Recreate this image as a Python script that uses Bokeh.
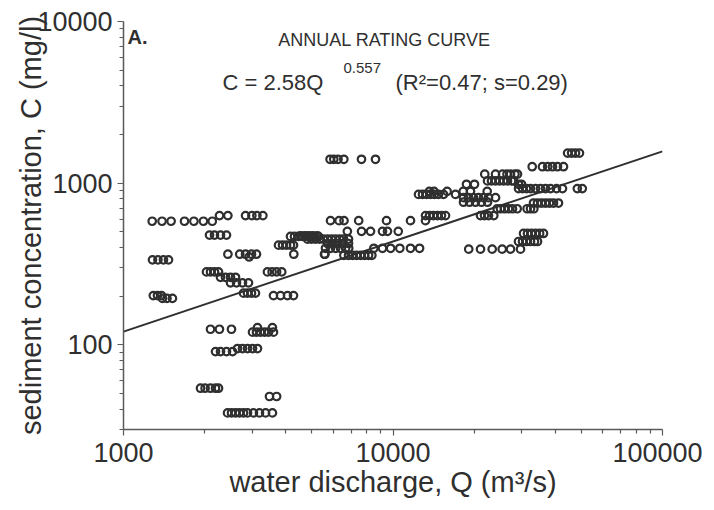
from bokeh.plotting import figure
from bokeh.models import FixedTicker, NumeralTickFormatter, Label
from bokeh.embed import file_html
from bokeh.resources import INLINE

# ---- data (Q: m3/s, C: mg/l) ----
Q = [
    # C ~ 580 / 630 row (upper left)
    1278, 1390, 1502, 1684, 1825, 1980, 2135,
    2271, 2440, 2837, 2995, 3125, 3290,
    # C ~ 478
    2085, 2176, 2291, 2411,
    # C ~ 414
    3760, 3891, 4027, 4166, 4274,
    # C ~ 469
    4166, 4310, 4460, 4615, 4776, 4943, 5110, 5290,
    # C ~ 364 / 350
    2440, 2700, 2837, 2985, 3115, 4285, 5590, 2925,
    # C ~ 336
    1281, 1342, 1407, 1469,
    # C ~ 283
    2032, 2103, 2176, 2252, 3420, 3560, 3700, 3865,
    # C ~ 262
    2291, 2390, 2495, 2604,
    # C ~ 242
    2495, 2626, 2764, 2910,
    # C ~ 209
    2788, 2885, 2985, 3088,
    # C ~ 202 / 194
    1290, 1337, 1384, 1395, 1450, 1519,
    # C ~ 202
    3602, 3825, 4060, 4274,
    # C ~ 125 / 120
    2103, 2270, 2516, 3011, 3115, 3222, 3337, 3452, 3602, 3141, 3570,
    # C ~ 91 / 95
    2195, 2291, 2411, 2538, 2649, 2764, 2885, 3011, 3141,
    # C ~ 53
    1931, 2008, 2103, 2195, 2252,
    # C ~ 47
    3481, 3700,
    # C ~ 38
    2432, 2516, 2604, 2694, 2788, 2885, 3036, 3196, 3367, 3570,
    # C ~ 1400
    5840, 6030, 6250, 6570, 7640, 8610,
    # C ~ 1535
    44450, 46000, 47560, 49200,
    # C ~ 1265
    32850, 35860, 37490, 39060, 40770, 42918,
    # C ~ 1138
    21900, 24017, 25489, 26490, 27290, 28360, 28970,
    # C ~ 1033
    22425, 23200, 24017, 24860, 25720, 26600, 27530, 28000,
    # C ~ 985
    18738, 20064, 29220, 29975,
    # C ~ 926
    29220, 30240, 31290, 32378, 33800, 35262, 36801, 38405, 40430, 42550, 48300, 50400,
    # C ~ 891
    13640, 14200, 15880, 18220, 19392, 22360,
    # C ~ 853
    12437, 12866, 13320, 13779, 14250, 14750, 15398, 17059,
    # C ~ 814
    18265, 19061, 19890, 20764, 21670, 22610, 24017,
    # C ~ 763
    18265, 19230, 20230, 21290, 22425,
    # C ~ 754
    33216, 34374, 35560, 36801, 38080, 39400, 41122,
    # C ~ 695
    24350, 25058, 25930, 26829, 27760, 28900, 31450, 32378, 33310,
    # C ~ 631
    13202, 13660, 14136, 14627, 15130, 15663, 21122, 21856, 22610, 23660,
    # C ~ 587
    5864, 6310, 6580, 7460, 9461, 11613, 13202,
    # C ~ 504
    6770, 7643, 8254, 9140, 9540, 10460,
    # C ~ 489
    30500, 31555, 32650, 33800, 35000, 36175,
    # C ~ 473
    4538, 4700, 4860, 5030, 5230,
    # C ~ 451
    4817, 4985, 5160, 5340, 5525, 5720, 5920, 6125, 6340, 6553, 6838,
    # C ~ 436
    29220, 30240, 31290, 32378, 33500, 34374,
    # C ~ 424
    5720, 5965, 6220, 6495, 6838,
    # C ~ 396
    5617, 5864, 6125, 6390, 6670, 6850, 8490, 9142, 9800, 10600, 11613, 12550,
    # C ~ 391
    19100, 21122, 23340, 25420, 27290, 29721,
    # C ~ 364
    5570,
    # C ~ 358
    6570, 6838, 7076, 7322, 7577, 7841, 8115, 8350,
]

C = (
    [582] * 7 + [631] * 6
    + [478] * 4
    + [414] * 5
    + [469] * 8
    + [364] * 7 + [350]
    + [336] * 4
    + [283] * 8
    + [262] * 4
    + [242] * 4
    + [209] * 4
    + [202] * 3 + [194] * 3
    + [202] * 4
    + [125] * 3 + [120] * 6 + [128] * 2
    + [91] * 4 + [95] * 5
    + [54] * 5
    + [48] * 2
    + [38] * 10
    + [1406] * 6
    + [1535] * 4
    + [1265] * 6
    + [1138] * 7
    + [1033] * 8
    + [985] * 4
    + [926] * 12
    + [891] * 6
    + [853] * 8
    + [814] * 7
    + [763] * 5
    + [754] * 7
    + [695] * 9
    + [631] * 10
    + [587] * 7
    + [504] * 6
    + [489] * 6
    + [473] * 5
    + [451] * 11
    + [436] * 6
    + [424] * 5
    + [396] * 12
    + [391] * 6
    + [364] * 1
    + [358] * 8
)

# rating curve C = a * Q^b
coef_a = 2.58
coef_b = 0.557
line_q = [1000, 100000]
line_c = [coef_a * q ** coef_b for q in line_q]

x_major = [1000, 10000, 100000]
x_minor = [m * 10 ** e for e in (3, 4) for m in range(2, 10)]
y_major = [100, 1000, 10000]
y_minor = [m * 10 ** e for e in (1, 2, 3) for m in range(2, 10) if m * 10 ** e >= 30]

FONT = "Liberation Sans"
INK = "#2f2f2f"
AXIS = "#5a5a5a"

p = figure(
    frame_width=539, frame_height=408,
    x_axis_type="log", y_axis_type="log",
    x_range=(1000, 100000), y_range=(30, 10000),
    output_backend="svg", toolbar_location=None,
    min_border_left=123, min_border_right=40,
    min_border_top=21, min_border_bottom=70,
)
p.outline_line_color = None
p.xgrid.visible = False
p.ygrid.visible = False
p.background_fill_color = "white"
p.border_fill_color = "white"

p.line(line_q, line_c, line_color=INK, line_width=2)
p.scatter(Q, C, marker="circle", size=7.5, fill_color=None,
          line_color=INK, line_width=2.2)

for ax, maj, mnr in ((p.xaxis[0], x_major, x_minor), (p.yaxis[0], y_major, y_minor)):
    ax.ticker = FixedTicker(ticks=maj, minor_ticks=mnr)
    ax.formatter = NumeralTickFormatter(format="0")
    ax.axis_line_color = AXIS
    ax.axis_line_width = 1.5
    ax.major_tick_line_color = AXIS
    ax.minor_tick_line_color = AXIS
    ax.major_tick_line_width = 1.2
    ax.minor_tick_line_width = 1.2
    ax.major_tick_in = 0
    ax.major_tick_out = 6
    ax.minor_tick_in = 0
    ax.minor_tick_out = 4
    ax.major_label_text_font = FONT
    ax.major_label_text_font_size = "27px"
    ax.major_label_text_color = INK
    ax.axis_label_text_font = FONT
    ax.axis_label_text_font_size = "29px"
    ax.axis_label_text_font_style = "normal"
    ax.axis_label_text_color = INK

p.xaxis.major_label_standoff = 7
p.xaxis.axis_label = "water discharge, Q (m³/s)"
p.xaxis.axis_label_standoff = 1
p.yaxis.major_label_standoff = 5
p.yaxis.axis_label = "sediment concentration, C (mg/l)"
p.yaxis.axis_label_standoff = -13

def add_text(x, y, text, size, style="normal", align="left", baseline="alphabetic"):
    p.add_layout(Label(x=x, y=y, text=text, text_font=FONT, text_font_size=size,
                       text_font_style=style, text_color=INK, text_align=align,
                       text_baseline=baseline))

add_text(1035, 8000, "A.", "20px", style="bold")
add_text(9300, 7635, "ANNUAL RATING CURVE", "18px", align="center", baseline="middle")
add_text(2329, 4197, "C = 2.58Q", "22px")
add_text(6551, 5125, "0.557", "15px")
add_text(10216, 4197, "(R²=0.47; s=0.29)", "22px")

open("out.html", "w").write(file_html(p, INLINE))
